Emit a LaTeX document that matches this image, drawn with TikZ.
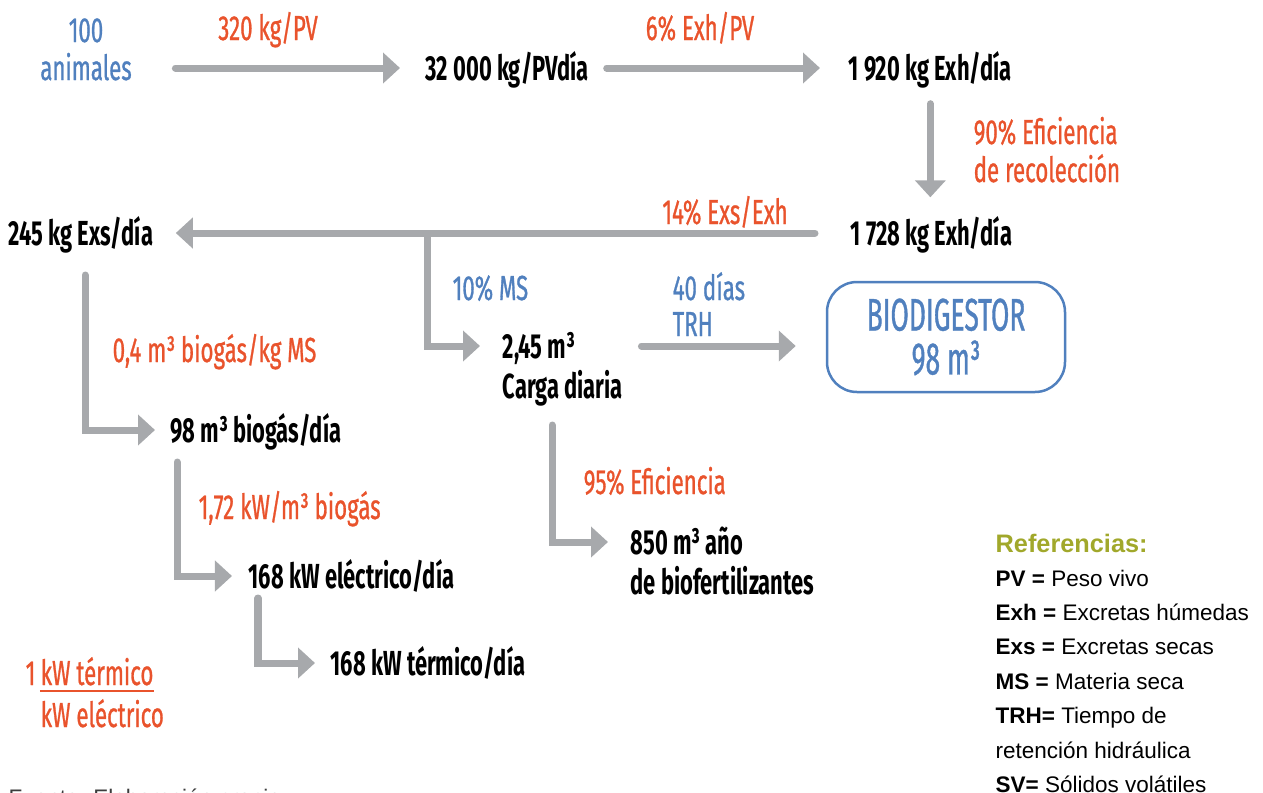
\documentclass[tikz,border=0pt]{standalone}
\usepackage{fontspec}
\setmainfont{Liberation Sans}
\newfontfamily\condfont[FakeStretch=0.64, FakeBold=0.8]{Fira Sans}
\newfontfamily\condbold[FakeStretch=0.63]{Fira Sans Bold}
\newfontfamily\cajafont[FakeStretch=0.58, FakeBold=0.8]{Fira Sans}
\usetikzlibrary{arrows.meta}
\usetikzlibrary{positioning, calc}
\definecolor{flecha}{RGB}{167,169,172}
\definecolor{naranja}{RGB}{233,83,44}
\definecolor{azul}{RGB}{80,128,190}
\definecolor{oliva}{RGB}{161,168,43}
\definecolor{gris}{RGB}{60,60,60}

\tikzset{
    flow/.style={flecha, line width=0.07cm, line cap=round, -{Triangle[width=0.3cm,length=0.17cm]}},
    cond/.style={inner sep=0pt, text height=0.24cm, text depth=0pt},
    val/.style={cond, black, font=\condbold\fontsize{9.9}{11.4}\selectfont},
    fac/.style={cond, naranja, font=\condfont\fontsize{9.9}{11.4}\selectfont},
    inp/.style={cond, azul, font=\condfont\fontsize{9.9}{11.4}\selectfont},
    caja/.style={draw=azul, line width=0.025cm, rounded corners=0.3cm, minimum width=2.38cm, minimum height=1.10cm, align=center, text=azul, font=\cajafont\fontsize{13}{12.5}\selectfont},
    refl/.style={inner sep=0pt, anchor=base west, black, font=\fontsize{6.4}{8}\selectfont}
}

\begin{document}
\begin{tikzpicture}

    \useasboundingbox (0,0) rectangle (12.63,-7.93);

    % fila superior
    \node[inp, anchor=base] (cien) at (0.86,-0.42) {100};
    \node[inp, anchor=base] (animales) at (0.86,-0.80) {animales};
    \node[fac, anchor=base] (fpv) at (2.68,-0.40) {320 kg/PV};
    \node[val, anchor=base west] (pvdia) at (4.25,-0.80) {32 000 kg/PVdía};
    \node[fac, anchor=base] (fexh) at (7.00,-0.40) {6\% Exh/PV};
    \node[val, anchor=base west] (exh1) at (8.48,-0.80) {1 920 kg Exh/día};
    \node[fac, anchor=base west] (frec) at (9.73,-1.44) {90\% Eficiencia};
    \node[fac, anchor=base west] (frec2) at ([yshift=-0.38cm]frec.base west) {de recolección};

    \node[val, anchor=base west] (exh2) at (8.50,-2.45) {1 728 kg Exh/día};
    \node[fac, anchor=base] (fexs) at (7.25,-2.24) {14\% Exs/Exh};
    \node[val, anchor=base west] (exs) at (0.08,-2.45) {245 kg Exs/día};

    \node[inp, anchor=base west] (fms) at (4.52,-3.00) {10\% MS};
    \node[val, anchor=base west] (carga) at (5.02,-3.58) {2,45 m³};
    \node[val, anchor=base west] (carga2) at ([yshift=-0.40cm]carga.base west) {Carga diaria};
    \node[inp, anchor=base west] (trh) at (6.72,-3.00) {40 días};
    \node[inp, anchor=base west] (trh2) at ([yshift=-0.36cm]trh.base west) {TRH};
    \node[caja] (biodig) at (9.46,-3.37) {BIODIGESTOR\\98 m³};

    \node[fac, anchor=base west] (fbio) at (1.12,-3.62) {0,4 m³ biogás/kg MS};
    \node[val, anchor=base west] (biogas) at (1.70,-4.42) {98 m³ biogás/día};
    \node[fac, anchor=base west] (fkw) at (1.98,-5.19) {1,72 kW/m³ biogás};
    \node[val, anchor=base west] (kwe) at (2.48,-5.88) {168 kW eléctrico/día};
    \node[val, anchor=base west] (kwt) at (3.30,-6.75) {168 kW térmico/día};
    \node[fac, anchor=base west] (fef) at (5.83,-4.94) {95\% Eficiencia};
    \node[val, anchor=base west] (abono) at (6.30,-5.54) {850 m³ año};
    \node[val, anchor=base west] (abono2) at ([yshift=-0.40cm]abono.base west) {de biofertilizantes};

    % relacion termico / electrico
    \node[fac, anchor=base west] (uno) at (0.25,-6.85) {1};
    \node[fac, anchor=base west] (fterm) at (0.40,-6.85) {kW térmico};
    \node[fac, anchor=base west] (felec) at (0.40,-7.27) {kW eléctrico};
    \draw[naranja, line width=0.02cm] ([yshift=-0.06cm]fterm.base west) -- ([yshift=-0.06cm]fterm.base east);

    % flechas
    \draw[flow, shorten <=0.43cm, shorten >=0.25cm] (animales.east) -- (pvdia.west);
    \draw[flow, shorten <=0.17cm, shorten >=0.28cm] (pvdia.east) -- (exh1.west);
    \draw[flow, shorten <=0.23cm, shorten >=0.23cm] (exh1.south) -- (exh1.south |- exh2.north);
    \draw[flow, shorten <=0.35cm, shorten >=0.22cm] (exh2.west) -- (exs.east);
    \coordinate (rama) at (4.27,-2.33);
    \draw[flow, line cap=butt, shorten >=0.22cm] (rama) |- (carga.west);
    \draw[flow, shorten <=0.18cm, shorten >=0.30cm] (carga2.east |- carga.west) -- (biodig.west |- carga.west);
    \coordinate (sexs) at (0.85,-2.75);
    \draw[flow, shorten >=0.15cm] (sexs) |- (biogas.west);
    \coordinate (sbio) at (1.77,-4.62);
    \draw[flow, shorten >=0.16cm] (sbio) |- (kwe.west);
    \coordinate (skwe) at (2.58,-5.98);
    \draw[flow, shorten >=0.15cm] (skwe) |- (kwt.west);
    \coordinate (scarga) at (5.52,-4.25);
    \draw[flow, shorten >=0.22cm] (scarga) |- (abono.west);

    % referencias
    \node[refl, oliva, font=\bfseries\fontsize{7.2}{8}\selectfont] (ref) at (9.95,-5.52) {Referencias:};
    \foreach \txt [count=\i] in {{\textbf{PV =} Peso vivo}, {\textbf{Exh =} Excretas húmedas}, {\textbf{Exs =} Excretas secas}, {\textbf{MS =} Materia seca}, {\textbf{TRH=} Tiempo de}, {retención hidráulica}, {\textbf{SV=} Sólidos volátiles}}
        \node[refl] (ref\i) at (9.95,{-5.86-0.344*(\i-1)}) {\txt};

    \node[refl, gris] (fuente) at (0.08,-8.05) {Fuente: Elaboración propia};

\end{tikzpicture}
\end{document}
